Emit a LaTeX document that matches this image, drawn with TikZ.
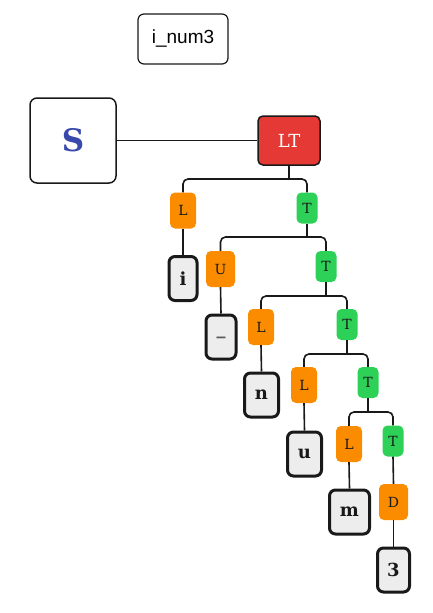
\documentclass[tikz,border=0pt]{standalone}
\usepackage{fontspec}
\setmainfont{DejaVu Serif}
\newfontfamily\arialf{Liberation Sans}
\begin{document}
\begin{tikzpicture}[x=1pt,y=-1pt,
  conn/.style={draw=black!90,line width=1.6pt},
  bus/.style={conn,rounded corners=5pt},
  tagbox/.style={rounded corners=5pt,inner sep=0pt,font=\fontsize{14}{14}\selectfont,text=black!90},
  ltag/.style={tagbox,minimum width=26pt,minimum height=36pt},
  ttag/.style={tagbox,minimum width=21pt,minimum height=31pt},
  leafbox/.style={draw=black!90,line width=3pt,fill=black!7,rounded corners=6pt,inner sep=0pt,minimum height=44pt,font=\fontsize{18}{18}\selectfont\bfseries,text=black!90}
]
\definecolor{tagorange}{HTML}{FB8C00}
\definecolor{taggreen}{HTML}{2ED158}
\definecolor{ltred}{HTML}{E53935}
\definecolor{sblue}{HTML}{3949AB}
\tikzset{ltag/.append style={fill=tagorange},ttag/.append style={fill=taggreen}}
\useasboundingbox (0,0) rectangle (433,613);

\node[draw=black!90,line width=1.2pt,rounded corners=6pt,minimum width=90pt,minimum height=50pt,inner sep=0pt,font=\arialf\fontsize{19}{19}\selectfont] (title) at (183,39) {i\_num3};
\node[draw=black!90,line width=1.5pt,rounded corners=7pt,minimum width=86pt,minimum height=85pt,inner sep=0pt,font=\fontsize{31}{31}\selectfont\bfseries,text=sblue] (S) at (73,140.5) {S};
\node[draw=black!90,line width=1.5pt,fill=ltred,rounded corners=5pt,minimum width=62pt,minimum height=49pt,inner sep=0pt,font=\fontsize{18}{18}\selectfont,text=white] (LT) at (289,140.5) {LT};
\draw[conn] (S.east) -- (LT.west);

% level 1
\node[ltag] (L1) at (183,210.5) {L};
\node[ttag] (T1) at (307,208) {T};
\node[leafbox,minimum width=28pt] (i) at (183,278.5) {i};
\coordinate (b1) at (289,179);
\draw[conn] (LT.south) -- (b1);
\draw[bus] (L1.north) |- (b1) -| (T1.north);
\draw[conn] (L1.south) -- (i.north);

% level 2
\node[ltag,minimum width=29pt] (U) at (220.5,269) {U};
\node[ttag] (T2) at (326,266.5) {T};
\node[leafbox,minimum width=30pt,text=black!65] (us) at (221,337) {\_};
\coordinate (b2) at (307,237);
\draw[conn] (T1.south) -- (b2);
\draw[bus] (U.north) |- (b2) -| (T2.north);
\draw[conn] (U.south) -- (us.north);

% level 3
\node[ltag] (L3) at (261,327) {L};
\node[ttag] (T3) at (347,324.5) {T};
\node[leafbox,minimum width=34pt] (n) at (261.5,395) {n};
\coordinate (b3) at (326,296);
\draw[conn] (T2.south) -- (b3);
\draw[bus] (L3.north) |- (b3) -| (T3.north);
\draw[conn] (L3.south) -- (n.north);

% level 4
\node[ltag] (L4) at (304,385) {L};
\node[ttag] (T4) at (368,382.5) {T};
\node[leafbox,minimum width=34pt] (u) at (304.5,454) {u};
\coordinate (b4) at (347,354);
\draw[conn] (T3.south) -- (b4);
\draw[bus] (L4.north) |- (b4) -| (T4.north);
\draw[conn] (L4.south) -- (u.north);

% level 5
\node[ltag] (L5) at (349,444) {L};
\node[ttag] (T5) at (393,441) {T};
\node[leafbox,minimum width=40pt] (m) at (349.5,512) {m};
\coordinate (b5) at (368,412);
\draw[conn] (T4.south) -- (b5);
\draw[bus] (L5.north) |- (b5) -| (T5.north);
\draw[conn] (L5.south) -- (m.north);

% D and 3
\node[ltag,minimum width=29pt] (D) at (393.5,502) {D};
\node[leafbox,minimum width=32pt] (three) at (393.5,570) {3};
\draw[conn] (T5.south) -- (D.north);
\draw[conn] (D.south) -- (three.north);
\end{tikzpicture}
\end{document}
